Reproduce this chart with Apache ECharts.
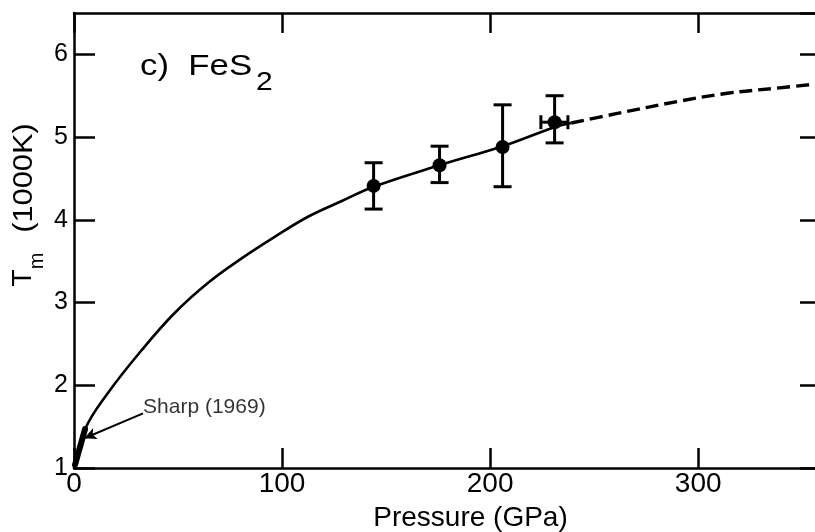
<!DOCTYPE html>
<html>
<head>
<meta charset="utf-8">
<script src="https://cdn.jsdelivr.net/npm/echarts@6/dist/echarts.min.js"></script>
<style>
html,body{margin:0;padding:0;background:#fff;}
#chart{width:815px;height:532px;}
</style>
</head>
<body>
<div id="chart"></div>
<script>
// ---- data ----
const curveSolidP = [0, 5.3, 16.4, 32.7, 48.6, 64.5, 80.9, 96.8, 112.7, 129, 144, 175.7, 206, 231, 239];
const curveSolidT = [1.0, 1.47, 1.91, 2.43, 2.88, 3.24, 3.54, 3.80, 4.04, 4.23, 4.40, 4.66, 4.89, 5.12, 5.17];
const curveDashP = [239, 260, 290, 314, 337, 360];
const curveDashT = [5.17, 5.28, 5.43, 5.53, 5.59, 5.65];
const sharpP = [0.5, 5.3];
const sharpT = [1.04, 1.47];
const measP   = [144, 175.7, 206, 231];
const measT   = [4.41, 4.66, 4.88, 5.18];
const measTlo = [4.13, 4.45, 4.40, 4.93];
const measThi = [4.69, 4.89, 5.39, 5.50];
const measPlo = [144, 175.7, 206, 224.4];
const measPhi = [144, 175.7, 206, 237.4];
const sharpLabel = 'Sharp (1969)';
const sharpLabelAt = [33.2, 1.73];
const arrowFrom = [33.2, 1.66];
const arrowTo = [5.0, 1.36];
const xTicks = [0, 100, 200, 300];
const yTicks = [1, 2, 3, 4, 5, 6];

const zip = (a, b) => a.map((v, i) => [v, b[i]]);
const FONT = 'Liberation Sans';
const chart = echarts.init(document.getElementById('chart'), null, {renderer: 'canvas'});

const axisLine = {show: true, onZero: false, lineStyle: {color: '#000', width: 2.5}};
const tickStyle = {color: '#000', width: 2.5};

const option = {
  backgroundColor: '#fff',
  animation: false,
  grid: {left: 74, right: -8, top: 13, bottom: 64, containLabel: false, outerBoundsMode: 'none'},
  xAxis: [{
    type: 'value', min: 0, max: 360, interval: 100, position: 'bottom',
    axisLine: axisLine,
    axisTick: {show: true, inside: true, length: 20, lineStyle: tickStyle},
    splitLine: {show: false},
    axisLabel: {
      show: true, margin: 2, color: '#000', fontFamily: FONT, fontSize: 28,
      showMaxLabel: false,
      formatter: v => xTicks.indexOf(v) >= 0 ? String(v) : ''
    },
    name: 'Pressure (GPa)', nameLocation: 'middle', nameGap: 36,
    nameTextStyle: {color: '#000', fontFamily: FONT, fontSize: 28, padding: [0, 0, 0, 44]}
  }, {
    type: 'value', min: 0, max: 360, interval: 100, position: 'top',
    axisLine: axisLine,
    axisTick: {show: true, inside: true, length: 20, lineStyle: tickStyle},
    splitLine: {show: false}, axisLabel: {show: false}
  }],
  yAxis: [{
    type: 'value', min: 1, max: 6.5, interval: 1, position: 'left',
    axisLine: axisLine,
    axisTick: {show: true, inside: true, length: 21, lineStyle: tickStyle},
    splitLine: {show: false},
    axisLabel: {
      show: true, margin: 6, color: '#000', fontFamily: FONT, fontSize: 25,
      showMaxLabel: false,
      formatter: v => yTicks.indexOf(v) >= 0 ? String(v) : ''
    }
  }, {
    type: 'value', min: 1, max: 6.5, interval: 1, position: 'right',
    axisLine: axisLine,
    axisTick: {show: true, inside: true, length: 23, lineStyle: tickStyle},
    splitLine: {show: false}, axisLabel: {show: false}
  }],
  series: [
    {
      type: 'line', data: zip(curveSolidP, curveSolidT), smooth: 0.4,
      showSymbol: false, symbol: 'none',
      lineStyle: {color: '#000', width: 2.6}, z: 3
    },
    {
      type: 'line', data: zip(curveDashP, curveDashT), smooth: 0.4,
      showSymbol: false, symbol: 'none',
      lineStyle: {color: '#000', width: 3.4, type: [13, 6]}, z: 3
    },
    {
      type: 'line', data: zip(sharpP, sharpT), showSymbol: false, symbol: 'none',
      lineStyle: {color: '#000', width: 6, cap: 'round'}, z: 4,
      markLine: {
        silent: true, symbol: ['none', 'arrow'], symbolSize: [9, 12],
        lineStyle: {color: '#000', width: 2, type: 'solid'},
        label: {show: false},
        data: [[{coord: arrowFrom}, {coord: arrowTo}]]
      }
    },
    {
      type: 'custom',
      data: measP.map((p, i) => [p, measT[i], measTlo[i], measThi[i], measPlo[i], measPhi[i]]),
      renderItem: function (params, api) {
        const x = api.value(0), y = api.value(1);
        const lo = api.coord([x, api.value(2)]);
        const hi = api.coord([x, api.value(3)]);
        const cw = 9;
        const st = {stroke: '#000', lineWidth: 3};
        const children = [
          {type: 'line', shape: {x1: lo[0], y1: lo[1], x2: hi[0], y2: hi[1]}, style: st},
          {type: 'line', shape: {x1: lo[0] - cw, y1: lo[1], x2: lo[0] + cw, y2: lo[1]}, style: st},
          {type: 'line', shape: {x1: hi[0] - cw, y1: hi[1], x2: hi[0] + cw, y2: hi[1]}, style: st}
        ];
        const xl = api.value(4), xh = api.value(5);
        if (xh > xl) {
          const l = api.coord([xl, y]), r = api.coord([xh, y]);
          const ch = 7;
          children.push(
            {type: 'line', shape: {x1: l[0], y1: l[1], x2: r[0], y2: r[1]}, style: st},
            {type: 'line', shape: {x1: l[0], y1: l[1] - ch, x2: l[0], y2: l[1] + ch}, style: st},
            {type: 'line', shape: {x1: r[0], y1: r[1] - ch, x2: r[0], y2: r[1] + ch}, style: st}
          );
        }
        return {type: 'group', children: children};
      },
      z: 5
    },
    {
      type: 'scatter', data: zip(measP, measT), symbol: 'circle', symbolSize: 14,
      itemStyle: {color: '#000', opacity: 1}, z: 6
    },
    {
      type: 'scatter', data: [sharpLabelAt], symbolSize: 0, silent: true,
      label: {
        show: true, position: 'right', distance: 0, formatter: sharpLabel,
        color: '#000', fontFamily: FONT, fontSize: 21
      }, z: 6
    }
  ],
  graphic: [
    {type: 'text', x: 140, y: 67, scaleX: 1.2,
     style: {text: 'c)  FeS', fill: '#000', font: '29px "Liberation Sans"', verticalAlign: 'middle', align: 'left'}},
    {type: 'text', x: 256, y: 83, scaleX: 1.2,
     style: {text: '2', fill: '#000', font: '25px "Liberation Sans"', verticalAlign: 'middle', align: 'left'}},
    {type: 'text', x: 23, y: 278, rotation: Math.PI / 2,
     style: {text: 'T', fill: '#000', font: '28px "Liberation Sans"', verticalAlign: 'middle', align: 'center'}},
    {type: 'text', x: 37, y: 261, rotation: Math.PI / 2,
     style: {text: 'm', fill: '#000', font: '20px "Liberation Sans"', verticalAlign: 'middle', align: 'center'}},
    {type: 'text', x: 24, y: 178, rotation: Math.PI / 2, scaleX: 1.1,
     style: {text: '(1000K)', fill: '#000', font: '28px "Liberation Sans"', verticalAlign: 'middle', align: 'center'}}
  ]
};
chart.setOption(option);
</script>
</body>
</html>
